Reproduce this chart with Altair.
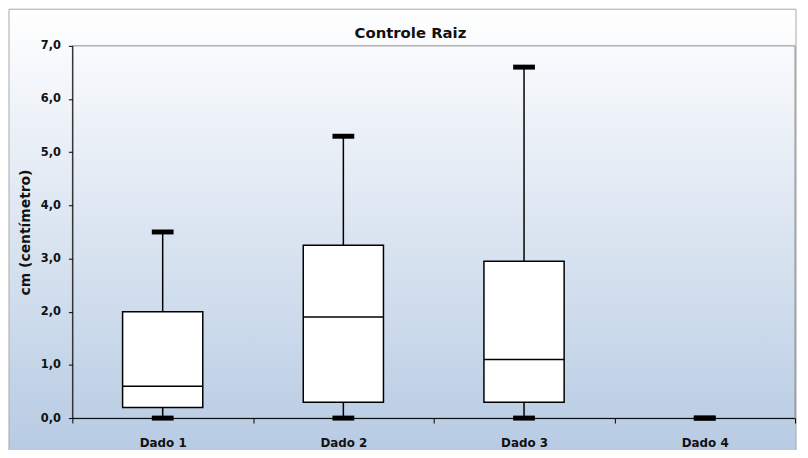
import altair as alt
import pandas as pd

categories = ["Dado 1", "Dado 2", "Dado 3", "Dado 4"]
minimo = [0.0, 0.0, 0.0, 0.0]
q1 = [0.2, 0.3, 0.3, 0.0]
mediana = [0.6, 1.9, 1.1, 0.0]
q3 = [2.0, 3.25, 2.95, 0.0]
maximo = [3.5, 5.3, 6.6, 0.0]
y_ticks = [0, 1, 2, 3, 4, 5, 6, 7]

df = pd.DataFrame({"cat": categories, "mn": minimo, "q1": q1, "med": mediana,
                   "q3": q3, "mx": maximo})

W, H = 730, 376
FONT = "DejaVu Sans"

x_enc = alt.X("cat:N", sort=categories,
              scale=alt.Scale(paddingInner=0, paddingOuter=0),
              axis=alt.Axis(title=None, tickBand="extent", labelAngle=0, zindex=1,
                            domainColor="black", tickColor="black", tickSize=5,
                            labelPadding=15, labelFont=FONT, labelFontWeight="bold",
                            labelFontSize=12, labelColor="#111111"))
y_scale = alt.Scale(domain=[0, 7], nice=False)

bg = alt.Chart(alt.Data(values=[{}])).mark_rect(
    fill=alt.Gradient(gradient="linear",
                      stops=[alt.GradientStop(color="#ffffff", offset=0),
                             alt.GradientStop(color="#b7cbe3", offset=1)],
                      x1=0, x2=0, y1=0, y2=1),
    stroke="#a8a8a8", strokeWidth=1
).encode(x=alt.value(-64), x2=alt.value(731), y=alt.value(-37), y2=alt.value(410))

frame = alt.Chart(alt.Data(values=[{}])).mark_rect(
    fill=None, fillOpacity=0, stroke="#8a8a8a", strokeWidth=1
).encode(x=alt.value(0), x2=alt.value(W), y=alt.value(0), y2=alt.value(H))

base = alt.Chart(df)

whisk = base.mark_rule(color="black", strokeWidth=1.5).encode(
    x=x_enc,
    y=alt.Y("mn:Q", scale=y_scale,
            axis=alt.Axis(values=y_ticks, title="cm (centímetro)", zindex=1,
                          labelExpr="replace(format(datum.value, '.1f'), '.', ',')",
                          domainColor="black", tickColor="black", tickSize=4,
                          labelPadding=8, grid=False,
                          labelFont=FONT, labelFontWeight="bold", labelFontSize=11.5,
                          labelColor="#111111",
                          titleFont=FONT, titleFontWeight="bold", titleFontSize=14,
                          titleColor="#111111", titlePadding=8)),
    y2="mx:Q")

box = base.transform_filter("datum.q3 > datum.q1").mark_bar(
    fill="white", stroke="black", strokeWidth=1.5, size=81).encode(
    x=alt.X("cat:N", sort=categories), y=alt.Y("q1:Q"), y2="q3:Q")

med = base.transform_filter("datum.q3 > datum.q1").mark_tick(
    color="black", thickness=1.5, size=81, opacity=1).encode(
    x=alt.X("cat:N", sort=categories), y=alt.Y("med:Q"))

cap_top = base.mark_tick(color="black", thickness=5, size=22, opacity=1).encode(
    x=alt.X("cat:N", sort=categories), y=alt.Y("mx:Q"))
cap_bot = base.mark_tick(color="black", thickness=5, size=22, opacity=1).encode(
    x=alt.X("cat:N", sort=categories), y=alt.Y("mn:Q"))

chart = alt.layer(bg, frame, whisk, box, med, cap_top, cap_bot).properties(
    width=W, height=H,
    title=alt.TitleParams("Controle Raiz", font=FONT, fontWeight="bold",
                          fontSize=15, color="#111111", offset=0, dy=33, dx=8,
                          anchor="middle", frame="bounds"),
    autosize=alt.AutoSizeParams(type="none"),
    padding={"left": 65, "top": 36, "right": 5, "bottom": 30},
).configure_view(stroke=None).configure(background="white")

chart.save("out.html", embed_options={"renderer": "svg", "actions": False})
